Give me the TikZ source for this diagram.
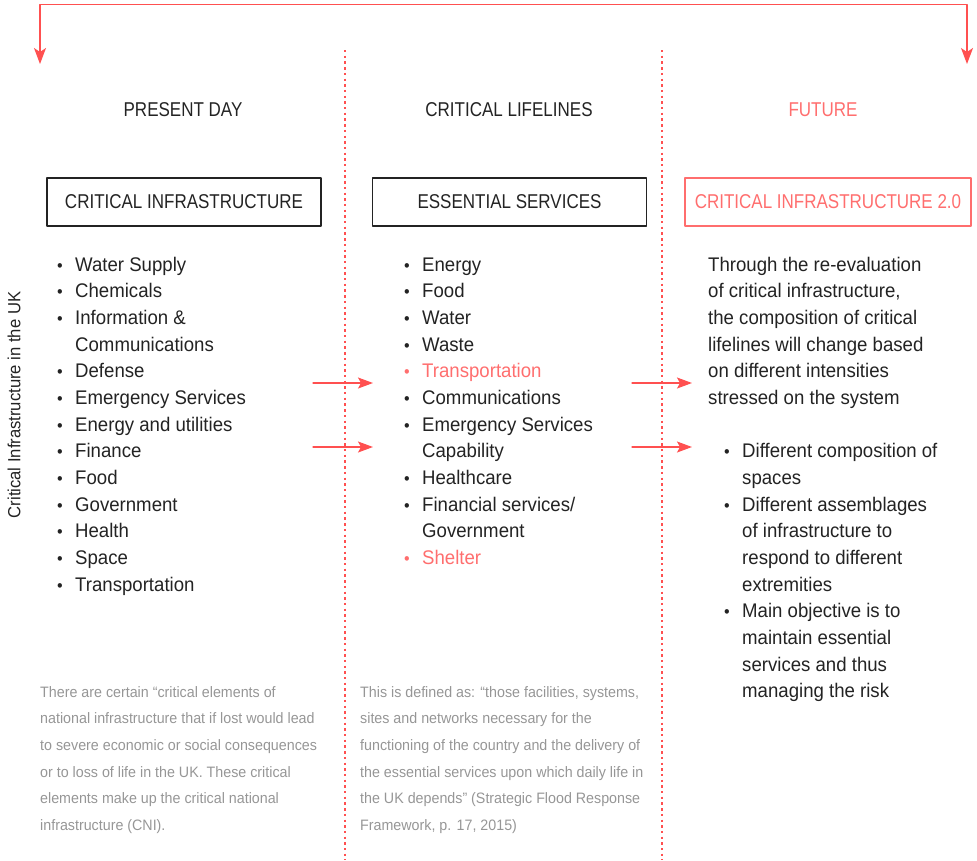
\documentclass[tikz,border=0pt]{standalone}
\usepackage{fontspec}
\setmainfont{Liberation Sans}[FakeStretch=0.945]
\newfontfamily\capsfont{Liberation Sans}[FakeStretch=0.85]
\usetikzlibrary{arrows.meta}
\definecolor{ink}{RGB}{35,35,35}
\definecolor{alarm}{RGB}{255,80,80}
\definecolor{soft}{RGB}{255,110,110}
\definecolor{note}{RGB}{150,150,150}
\tikzset{
  head/.style={anchor=base,inner sep=0pt,font=\capsfont\fontsize{20}{24}\selectfont},
  frame/.style={draw=ink,line width=1.3pt,minimum width=274pt,minimum height=48pt,inner sep=0pt,font=\capsfont\fontsize{20}{24}\selectfont},
  item/.style={anchor=base west,inner sep=0pt},
  dot/.style={anchor=base,inner sep=0pt,font=\fontsize{17}{18}\selectfont},
  remark/.style={anchor=base west,inner sep=0pt,text=note,font=\fontsize{15.1}{18}\selectfont},
  divider/.style={alarm,line width=2pt,dash pattern=on 2.4pt off 3.3pt,line cap=butt},
  link/.style={->,alarm,line width=1.3pt}
}
\begin{document}
\begin{tikzpicture}[x=1pt,y=-1pt,line join=round,line cap=round,>={Stealth[length=15pt,width=11pt,inset=3pt]},font=\fontsize{19.7}{24}\selectfont,text=ink]
\useasboundingbox (0,0) rectangle (977,860);
% column titles
\node[head] (present) at (183,116.7) {PRESENT DAY};
\node[head] (lifelines) at (509,116.7) {CRITICAL LIFELINES};
\node[head,text=soft] (future) at (823,116.7) {FUTURE};
\node[frame] (cibox) at (184,202) {CRITICAL INFRASTRUCTURE};
\node[frame] (esbox) at (509.5,202) {ESSENTIAL SERVICES};
\node[frame,draw=soft,text=soft,minimum width=286pt] (cinext) at (828,202) {CRITICAL INFRASTRUCTURE 2.0};
\node[rotate=90,inner sep=0pt,font=\fontsize{17.6}{20}\selectfont] (side) at (14,405) {Critical Infrastructure in the UK};
% dotted dividers
\draw[divider] (345,50) -- (345,860);
\draw[divider] (662,50) -- (662,860);
% present day
\foreach \n/\b/\t in {0/1/Water Supply,1/1/Chemicals,2/1/Information \&,3/0/Communications,4/1/Defense,5/1/Emergency Services,6/1/Energy and utilities,7/1/Finance,8/1/Food,9/1/Government,10/1/Health,11/1/Space,12/1/Transportation}{
  \node[item] (pd\n) at (75,271+26.67*\n) {\t};
  \ifnum\b=1 \node[dot] (pdb\n) at (60,271+26.67*\n) {•};\fi
}
% critical lifelines
\foreach \n/\b/\c/\t in {0/1/ink/Energy,1/1/ink/Food,2/1/ink/Water,3/1/ink/Waste,4/1/soft/Transportation,5/1/ink/Communications,6/1/ink/Emergency Services,7/0/ink/Capability,8/1/ink/Healthcare,9/1/ink/{Financial services/},10/0/ink/Government,11/1/soft/Shelter}{
  \node[item,text=\c] (cl\n) at (422,271+26.67*\n) {\t};
  \ifnum\b=1 \node[dot,text=\c] (clb\n) at (407,271+26.67*\n) {•};\fi
}
% future
\foreach \n/\t in {0/Through the re-evaluation,1/{of critical infrastructure,},2/the composition of critical,3/lifelines will change based,4/on different intensities,5/stressed on the system}
  \node[item] (ft\n) at (708,271+26.67*\n) {\t};
\foreach \n/\b/\t in {7/1/Different composition of,8/0/spaces,9/1/Different assemblages,10/0/of infrastructure to,11/0/respond to different,12/0/extremities,13/1/Main objective is to,14/0/maintain essential,15/0/services and thus,16/0/managing the risk}{
  \node[item] (fb\n) at (742,271+26.67*\n) {\t};
  \ifnum\b=1 \node[dot] (fbb\n) at (727,271+26.67*\n) {•};\fi
}
% notes
\foreach \n/\t in {0/There are certain “critical elements of,1/national infrastructure that if lost would lead,2/to severe economic or social consequences,3/or to loss of life in the UK. These critical,4/elements make up the critical national,5/infrastructure (CNI).}
  \node[remark] (pn\n) at (40,697+26.67*\n) {\t};
\foreach \n/\t in {0/{This is defined as: “those facilities, systems,},1/sites and networks necessary for the,2/functioning of the country and the delivery of,3/the essential services upon which daily life in,4/the UK depends” (Strategic Flood Response,5/{Framework, p. 17, 2015)}}
  \node[remark] (cn\n) at (360,697+26.67*\n) {\t};
% arrows
\path (313,383) coordinate (a1) (373,383) coordinate (b1)
  (313,447) coordinate (a2) (373,447) coordinate (b2)
  (632,383) coordinate (c1) (692,383) coordinate (d1)
  (632,447) coordinate (c2) (692,447) coordinate (d2)
  (40,64) coordinate (lt) (967,64) coordinate (rt) (503,4.5) coordinate (top);
\foreach \s/\e in {a1/b1,a2/b2,c1/d1,c2/d2}
  \draw[link] (\s) -- (\e);
\draw[link,<->,>={Stealth[length=16pt,width=12pt,inset=4pt]}] (lt) |- (top) -| (rt);
\end{tikzpicture}
\end{document}
